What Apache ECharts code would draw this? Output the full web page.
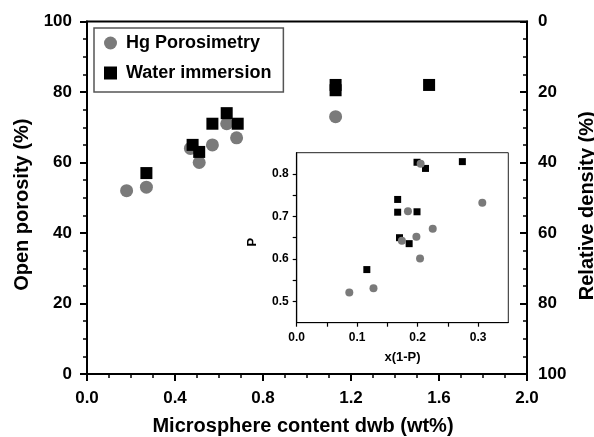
<!DOCTYPE html>
<html>
<head>
<meta charset="utf-8">
<script src="https://cdn.jsdelivr.net/npm/echarts@6/dist/echarts.min.js"></script>
<style>
  html, body { margin: 0; padding: 0; background: #fff; }
  #chart { width: 594px; height: 437px; }
</style>
</head>
<body>
<div id="chart"></div>
<script>
// main plot: open porosity vs microsphere content
const hgX = [0.18, 0.27, 0.47, 0.51, 0.57, 0.635, 0.68, 1.13];
const hgY = [52, 53, 64, 60, 65, 71, 67, 73];
const waterX = [0.27, 0.48, 0.51, 0.57, 0.635, 0.685, 1.13, 1.13, 1.555];
const waterY = [57, 65, 63, 71, 74, 71, 80.5, 82, 82];

// inset: P vs x(1-P)
const insetHgX = [0.087, 0.127, 0.204, 0.174, 0.198, 0.225, 0.184, 0.307, 0.205];
const insetHgP = [0.521, 0.531, 0.601, 0.643, 0.652, 0.671, 0.712, 0.732, 0.824];
const insetWaterX = [0.116, 0.186, 0.170, 0.199, 0.167, 0.167, 0.199, 0.213, 0.274];
const insetWaterP = [0.575, 0.636, 0.650, 0.711, 0.710, 0.740, 0.8275, 0.813, 0.829];

const FONT = "'Liberation Sans', Arial, sans-serif";
const GRAY = '#7a7a7a';

const zip = (xs, ys) => xs.map((x, i) => [x, ys[i]]);

const myChart = echarts.init(document.getElementById('chart'));

// only label every 0.1 on the inset axes
const labelTenth = (v) => {
  const t = Math.round(v * 100);
  return t % 10 === 0 ? (t / 100).toFixed(1) : '';
};

const option = {
  animation: false,
  backgroundColor: '#fff',
  textStyle: { fontFamily: FONT },
  legend: {
    orient: 'vertical',
    left: 94,
    top: 28,
    padding: [6, 12, 10, 10],
    itemGap: 12,
    itemWidth: 13,
    itemHeight: 13,
    borderColor: '#555',
    borderWidth: 1.5,
    data: ['Hg Porosimetry', 'Water immersion'],
    textStyle: {
      fontFamily: FONT, fontSize: 18, fontWeight: 'bold', color: '#000',
      padding: [0, 0, 0, 4]
    }
  },
  grid: [
    {
      left: 87, right: 67, top: 21.5, bottom: 63,
      outerBoundsMode: 'none',
      show: true, borderColor: '#000', borderWidth: 2
    },
    {
      left: 296.7, top: 152.7, width: 211.6, height: 170,
      outerBoundsMode: 'none',
      show: true, borderColor: '#222', borderWidth: 1, backgroundColor: '#fff'
    }
  ],
  xAxis: [
    {
      gridIndex: 0,
      type: 'value',
      min: 0, max: 2, interval: 0.4,
      name: 'Microsphere content dwb (wt%)',
      nameLocation: 'middle',
      nameGap: 42,
      nameTextStyle: { fontSize: 20, fontWeight: 'bold', color: '#000', padding: [0, 8, 0, 0] },
      axisLine: { lineStyle: { color: '#000', width: 2 } },
      axisTick: { length: 7, lineStyle: { width: 2, color: '#000' } },
      minorTick: { show: true, splitNumber: 4, length: 4, lineStyle: { width: 1.5, color: '#000' } },
      splitLine: { show: false },
      axisLabel: {
        margin: 16, fontSize: 17, fontWeight: 'bold', color: '#000',
        formatter: (v) => v.toFixed(1)
      }
    },
    {
      gridIndex: 1,
      type: 'value',
      min: 0, max: 0.35, interval: 0.05,
      name: 'x(1-P)',
      nameLocation: 'middle',
      nameGap: 28,
      nameTextStyle: { fontSize: 13, fontWeight: 'bold', color: '#000' },
      axisLine: { lineStyle: { color: '#000', width: 1.2 } },
      axisTick: { length: 4, lineStyle: { width: 1.2, color: '#000' } },
      splitLine: { show: false },
      axisLabel: {
        margin: 9, fontSize: 12, fontWeight: 'bold', color: '#000',
        showMaxLabel: false, formatter: labelTenth
      }
    }
  ],
  yAxis: [
    {
      gridIndex: 0,
      type: 'value',
      min: 0, max: 100, interval: 20,
      name: 'Open porosity (%)',
      nameLocation: 'middle',
      nameRotate: 90,
      nameGap: 52,
      nameTextStyle: { fontSize: 20, fontWeight: 'bold', color: '#000', padding: [0, 14, 0, 0] },
      axisLine: { show: true, lineStyle: { color: '#000', width: 2 } },
      axisTick: { show: true, length: 7, lineStyle: { width: 2, color: '#000' } },
      minorTick: { show: true, splitNumber: 4, length: 4, lineStyle: { width: 1.5, color: '#000' } },
      splitLine: { show: false },
      axisLabel: { margin: 15, fontSize: 17, fontWeight: 'bold', color: '#000' }
    },
    {
      gridIndex: 0,
      type: 'value',
      position: 'right',
      inverse: true,
      min: 0, max: 100, interval: 20,
      name: 'Relative density (%)',
      nameLocation: 'middle',
      nameRotate: 90,
      nameGap: 44,
      nameTextStyle: { fontSize: 20, fontWeight: 'bold', color: '#000', padding: [0, 16, 0, 0] },
      axisLine: { show: true, lineStyle: { color: '#000', width: 2 } },
      axisTick: { show: true, inside: true, length: 7, lineStyle: { width: 2, color: '#000' } },
      minorTick: { show: true, splitNumber: 4, length: 4, lineStyle: { width: 1.5, color: '#000' } },
      splitLine: { show: false },
      axisLabel: { margin: 11, fontSize: 17, fontWeight: 'bold', color: '#000' }
    },
    {
      gridIndex: 1,
      type: 'value',
      min: 0.45, max: 0.85, interval: 0.05,
      name: 'P',
      nameLocation: 'middle',
      nameRotate: 90,
      nameGap: 38,
      nameTextStyle: { fontSize: 13, fontWeight: 'bold', color: '#000', padding: [0, 9, 0, 0] },
      axisLine: { show: true, lineStyle: { color: '#000', width: 1.2 } },
      axisTick: { show: true, length: 4, lineStyle: { width: 1.2, color: '#000' } },
      splitLine: { show: false },
      axisLabel: {
        margin: 8, fontSize: 12, fontWeight: 'bold', color: '#000',
        showMinLabel: false, showMaxLabel: false, formatter: labelTenth
      }
    }
  ],
  series: [
    {
      name: 'Hg Porosimetry',
      type: 'scatter',
      xAxisIndex: 0, yAxisIndex: 0,
      symbol: 'circle', symbolSize: 13,
      itemStyle: { color: GRAY, opacity: 1 },
      data: zip(hgX, hgY)
    },
    {
      name: 'Water immersion',
      type: 'scatter',
      xAxisIndex: 0, yAxisIndex: 0,
      symbol: 'rect', symbolSize: 12,
      itemStyle: { color: '#000', opacity: 1 },
      data: zip(waterX, waterY)
    },
    {
      name: 'inset water',
      type: 'scatter',
      xAxisIndex: 1, yAxisIndex: 2,
      symbol: 'rect', symbolSize: 7,
      itemStyle: { color: '#000', opacity: 1 },
      data: zip(insetWaterX, insetWaterP)
    },
    {
      name: 'inset hg',
      type: 'scatter',
      xAxisIndex: 1, yAxisIndex: 2,
      symbol: 'circle', symbolSize: 8,
      itemStyle: { color: GRAY, opacity: 1 },
      data: zip(insetHgX, insetHgP)
    }
  ]
};

option && myChart.setOption(option);
</script>
</body>
</html>
